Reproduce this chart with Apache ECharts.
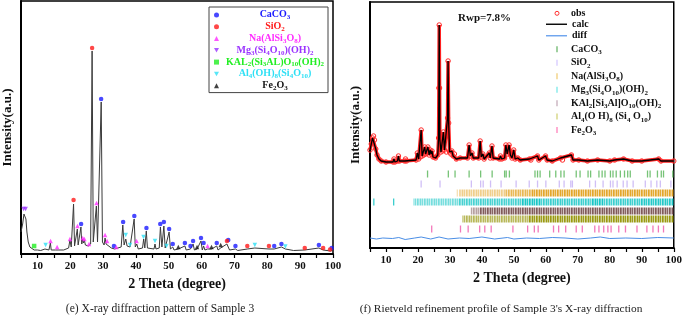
<!DOCTYPE html>
<html>
<head>
<meta charset="utf-8">
<script src="https://cdn.jsdelivr.net/npm/echarts@6/dist/echarts.min.js"></script>
<style>
  html, body { margin: 0; padding: 0; background: #fff; }
  #chart { width: 685px; height: 318px; }
</style>
</head>
<body>
<div id="chart"></div>
<script>
// ---- data ----
// left panel (e): measured pattern [2theta, intensity]
var leftPattern = [
  [5, 22], [5.5, 30], [5.9, 40], [6.2, 42], [6.5, 35], [6.8, 22], [7.2, 12], [7.7, 7], [8.3, 5], [9, 4],
  [10, 4], [11, 3.5], [12.3, 5], [12.6, 7], [12.9, 4], [13.5, 4], [13.95, 11], [14.2, 4], [15.5, 4], [15.9, 6],
  [16.3, 4], [18, 4], [19.5, 6], [19.9, 14], [20.3, 7], [20.7, 8], [21.0, 50], [21.3, 8], [21.8, 9], [22.15, 25],
  [22.4, 9], [22.9, 10], [23.25, 27], [23.5, 10], [23.8, 15], [24.05, 11], [24.3, 14], [24.6, 9], [25.5, 8], [25.8, 9],
  [26.2, 10], [26.65, 203], [27.0, 12], [27.4, 10], [27.95, 48], [28.3, 12], [28.8, 11], [29.42, 152], [29.8, 12], [30.3, 9],
  [30.6, 16], [30.9, 10], [31.2, 12], [31.5, 8], [32.5, 6], [33.0, 7], [33.5, 5], [34.0, 5], [35.5, 7], [36.0, 29],
  [36.4, 9], [36.9, 15], [37.3, 8], [38.2, 7], [38.6, 6], [39.45, 35], [39.8, 7], [40.25, 10], [40.7, 5], [42.0, 6],
  [42.35, 15], [42.7, 6], [43.15, 23], [43.5, 6], [45.5, 5], [45.8, 10], [46.1, 5], [47.1, 6], [47.45, 27], [47.9, 7],
  [48.5, 28], [48.9, 6], [49.3, 5], [50.1, 22], [50.5, 5], [51.2, 7], [51.6, 4], [52.9, 5], [54.9, 8], [55.3, 4],
  [56.6, 5], [57.4, 10], [57.8, 4], [58.6, 5], [59.8, 13], [60.2, 4], [60.6, 8], [61.0, 4], [61.8, 5], [63.0, 5],
  [64.6, 8], [65.0, 4], [65.8, 6], [66.3, 4], [67.7, 10], [68.1, 12], [68.5, 4], [70.3, 5], [71, 3.5], [73.9, 5],
  [76.2, 6], [80.5, 5], [82.1, 5], [84.3, 7], [85.5, 5], [88, 3.5], [91.4, 4], [95.7, 6], [97.0, 4], [99.3, 3], [100, 4]
];

// left panel: phase peak markers [2theta, height]
var markCaCO3 = [[23.3, 30], [29.4, 155], [33.3, 8], [36.1, 32], [39.5, 38], [43.2, 26], [47.4, 30], [48.5, 32],
  [50.1, 25], [51.2, 10], [54.9, 11], [56.6, 8], [57.4, 13], [59.8, 16], [60.6, 11], [64.6, 11], [68.1, 14],
  [70.3, 8], [82.1, 8], [84.3, 10], [95.7, 9], [99.6, 6]];
var markSiO2 = [[21.0, 54], [26.65, 206], [67.7, 13], [73.9, 8], [80.5, 8], [91.4, 6], [97.0, 6], [99.1, 4.5]];
var markNa = [[14.0, 13], [16.0, 7], [19.9, 15], [22.2, 28], [23.8, 16], [24.3, 15], [25.7, 10], [28.0, 51],
  [30.6, 19], [31.2, 13], [34.0, 7], [40.2, 13], [61.8, 8]];
var markMg = [[5.8, 45], [6.4, 45]];
var markKAL = [[9.0, 8]];
var markAl4 = [[12.5, 9], [36.9, 19], [38.2, 9], [42.3, 17], [45.8, 13], [49.3, 8], [76.2, 9], [85.5, 7.5]];
var markFe = [[52.9, 7], [58.6, 7], [63.0, 7], [65.8, 9]];

// right panel (f): observed / calculated profile [2theta, intensity]
var rightObs = [
  [5, 98], [5.4, 104], [5.8, 110], [6.1, 112], [6.4, 108], [6.8, 99], [7.2, 93], [7.8, 89], [8.5, 87], [10, 86],
  [12.2, 86], [12.5, 89], [12.8, 86], [13.6, 87], [13.9, 92], [14.2, 87], [15.8, 87], [16.1, 89], [16.4, 87], [19.4, 88],
  [19.8, 95], [20.2, 89], [20.7, 91], [21.0, 118], [21.3, 92], [21.8, 93], [22.1, 101], [22.4, 94], [22.8, 95], [23.1, 101],
  [23.5, 93], [23.8, 98], [24.1, 94], [24.4, 97], [24.7, 91], [25.5, 90], [26.2, 93], [26.45, 110], [26.55, 160], [26.65, 223],
  [26.75, 160], [26.85, 108], [27.2, 96], [27.6, 97], [27.95, 116], [28.3, 98], [28.9, 96], [29.25, 130], [29.42, 187], [29.6, 125],
  [29.9, 96], [30.3, 94], [30.6, 97], [31.0, 92], [31.4, 94], [32, 89], [33.2, 90], [35.5, 90], [36.0, 103], [36.4, 92],
  [36.9, 95], [37.3, 90], [39.0, 90], [39.45, 107], [39.8, 91], [40.3, 94], [40.7, 89], [42.3, 95], [42.6, 90], [43.15, 102],
  [43.5, 90], [45.5, 89], [45.8, 92], [46.2, 89], [47.1, 90], [47.5, 103], [47.9, 94], [48.5, 103], [48.9, 93], [49.4, 90],
  [49.95, 98], [50.4, 89], [51.2, 90], [52, 88], [54.9, 89], [55.3, 88], [57.4, 92], [57.8, 88], [59.9, 92], [60.4, 88],
  [62, 87], [64.6, 90], [65.2, 88], [68.0, 93], [68.5, 88], [70.3, 88], [73, 87], [76.2, 88], [80, 87], [81.5, 88],
  [84.3, 89], [87, 87], [90, 87], [95.3, 89], [96, 87], [100, 87]
];
var rightDiff = [[5, 10], [7, 9], [9, 10], [12, 9.5], [14, 10.5], [16, 8.5], [19, 10], [21, 11], [24, 9], [26.6, 11],
  [29.4, 9], [33, 10], [36, 9.5], [40, 11], [44, 9], [48, 10.5], [50, 9], [54, 10], [58, 9.5], [62, 10.5],
  [66, 10], [70, 9], [74, 10], [77, 11], [80, 9.5], [85, 10], [90, 9.5], [95, 10.5], [100, 10]];

// right panel: Bragg reflection positions (single ticks) and dense bands [from, to, strength]
var tickCaCO3 = [23.0, 29.5, 31.6, 36.0, 39.6, 43.2, 47.1, 47.6, 48.6, 56.6, 57.4, 58.2, 61.2, 63.1, 64.7, 65.7, 69.5,
  70.7, 73.2, 74.0, 76.6, 77.6, 78.5, 80.2, 81.0, 82.0, 83.3, 84.6, 85.6, 86.4, 91.8, 92.6, 94.9, 96.1, 96.8, 99.7];
var tickSiO2 = [21.0, 26.9, 36.7, 39.6, 40.4, 42.7, 46.0, 50.7, 54.8, 57.4, 60.0, 64.2, 65.7, 67.8, 68.3, 73.7, 75.5,
  77.9, 80.2, 81.0, 82.3, 84.2, 85.4, 87.3, 91.1, 92.9, 94.7, 95.8, 99.1];
var tickFe2O3 = [24.3, 33.3, 35.7, 39.3, 40.9, 42.9, 49.7, 54.3, 56.4, 57.6, 62.4, 64.0, 66.2, 69.5, 71.4, 75.3, 76.6,
  78.1, 79.4, 80.4, 82.8, 84.9, 88.5, 91.6, 93.5, 95.2, 96.8];
var tickMg3 = [6.2, 12.4];
var bandNa = [[32.1, 32.4, 0.6], [32.9, 47.1, 0.55], [47.1, 55.4, 0.8], [55.4, 100, 1]];
var bandMg3 = [[18.6, 32.6, 0.6], [32.6, 52.3, 0.8], [52.3, 58.5, 1], [58.5, 74, 0.85], [74, 78, 1], [78, 89.5, 0.85], [89.5, 100, 0.95]];
var bandKAl = [[36.5, 39.3, 0.55], [39.3, 100, 0.95]];
var bandAl4 = [[33.9, 54.3, 0.7], [54.3, 100, 1]];

var xTicks = [10, 20, 30, 40, 50, 60, 70, 80, 90, 100];

var leftLabels = [
  '{n|CaCO}{s|3}',
  '{n|SiO}{s|2}',
  '{n|Na(AlSi}{s|3}{n|O}{s|8}{n|)}',
  '{n|Mg}{s|3}{n|(Si}{s|4}{n|O}{s|10}{n|)(OH)}{s|2}',
  '{n|KAL}{s|2}{n|(Si}{s|3}{n|AL)O}{s|10}{n|(OH)}{s|2}',
  '{n|Al}{s|4}{n|(OH)}{s|8}{n|(Si}{s|4}{n|O}{s|10}{n|)}',
  '{n|Fe}{s|2}{n|O}{s|3}'
];
var rightLabels = [
  '{n|CaCO}{s|3}',
  '{n|SiO}{s|2}',
  '{n|Na(AlSi}{s|3}{n|O}{s|8}{n|)}',
  '{n|Mg}{s|3}{n|(Si}{s|4}{n|O}{s|10}{n|)(OH)}{s|2}',
  '{n|KAl}{s|2}{n|[Si}{s|3}{n|Al]O}{s|10}{n|(OH)}{s|2}',
  '{n|Al}{s|4}{n|(O H)}{s|8}{n| (Si}{s|4}{n| O}{s|10}{n|)}',
  '{n|Fe}{s|2}{n|O}{s|3}'
];

// ---- styles ----
var SERIF = 'Liberation Serif';
var invTri = 'path://M0,0L10,0L5,9Z';
var leftNames = ['L-CaCO3', 'L-SiO2', 'L-Na', 'L-Mg3', 'L-KAL2', 'L-Al4', 'L-Fe2O3'];
var leftMarks = [markCaCO3, markSiO2, markNa, markMg, markKAL, markAl4, markFe];
var leftColors = ['#1a1aff', '#ff1a1a', '#ff2cff', '#9a33ff', '#22ee22', '#2ee0f5', '#111111'];
var leftSymbols = ['circle', 'circle', 'triangle', invTri, 'rect', invTri, 'triangle'];

var rightNames = ['R-CaCO3', 'R-SiO2', 'R-Na', 'R-Mg3', 'R-KAl2', 'R-Al4', 'R-Fe2O3'];
var rowColors = ['#5fb85f', '#c8b4f4', '#e3a62a', '#19c6c6', '#7a5252', '#999911', '#f060ae'];
var legendPale = ['#9fd09f', '#e4dcff', '#f6dfa8', '#a8f0f0', '#d9c9d2', '#e2e2a8', '#ffadd3'];
var rowLevel = [74, 64, 55, 46, 37, 29, 19];

function stripes(color) {
  var c = document.createElement('canvas');
  c.width = 7; c.height = 8;
  var g = c.getContext('2d');
  var a = [1, 0.55, 0.95, 0.35, 1, 0.75, 0.5];
  g.fillStyle = color;
  for (var i = 0; i < a.length; i++) {
    g.globalAlpha = a[i];
    g.fillRect(i, 0, 1, 8);
  }
  return { image: c, repeat: 'repeat' };
}

function rowSeries(k, items) {
  var level = rowLevel[k];
  var pat = stripes(rowColors[k]);
  return {
    name: rightNames[k], type: 'custom', xAxisIndex: 1, yAxisIndex: 1,
    encode: { x: [0, 1] },
    itemStyle: { color: rowColors[k] },
    data: items,
    renderItem: function (params, api) {
      var p1 = api.coord([api.value(0), level]);
      var p2 = api.coord([api.value(1), level]);
      var single = api.value(1) - api.value(0) < 0.01;
      var w = single ? 1.3 : p2[0] - p1[0];
      return {
        type: 'rect',
        shape: { x: single ? p1[0] - 0.65 : p1[0], y: p1[1] - 3.5, width: w, height: 7 },
        style: { fill: single ? rowColors[k] : pat, opacity: api.value(2) }
      };
    }
  };
}
function asTicks(arr) { return arr.map(function (p) { return [p, p, 0.85]; }); }

function richFor(color, lh) {
  return {
    n: { fontFamily: SERIF, fontWeight: 'bold', fontSize: 10, lineHeight: lh, color: color, align: 'center' },
    s: { fontFamily: SERIF, fontWeight: 'bold', fontSize: 7, lineHeight: 7, verticalAlign: 'bottom', color: color, align: 'center' }
  };
}
function richLeft(color, lh) {
  var r = richFor(color, lh);
  r.n.align = 'left'; r.s.align = 'left';
  return r;
}

function xAxisCfg(grid) {
  return {
    type: 'value', gridIndex: grid, min: 5, max: 100, interval: 5,
    name: '2 Theta (degree)', nameLocation: 'middle', nameGap: 21,
    nameTextStyle: { fontFamily: SERIF, fontWeight: 'bold', fontSize: 14, color: '#111' },
    axisLine: { lineStyle: { color: '#000', width: 2 } },
    axisTick: { inside: false, length: 4, lineStyle: { color: '#000', width: 1.2 } },
    axisLabel: {
      margin: 7, fontFamily: SERIF, fontWeight: 'bold', fontSize: 11, color: '#111',
      formatter: function (v) { return xTicks.indexOf(v) >= 0 ? String(v) : ''; }
    },
    splitLine: { show: false }
  };
}
function yAxisCfg(grid, max, gap) {
  return {
    type: 'value', gridIndex: grid, min: 0, max: max,
    name: 'Intensity(a.u.)', nameLocation: 'middle', nameGap: gap, nameRotate: 90,
    nameTextStyle: { fontFamily: SERIF, fontWeight: 'bold', fontSize: 13, color: '#111' },
    axisLine: { lineStyle: { color: '#000', width: 2 } },
    axisTick: { show: false }, axisLabel: { show: false }, splitLine: { show: false }
  };
}

var series = [{
  name: 'pattern', type: 'line', xAxisIndex: 0, yAxisIndex: 0, data: leftPattern,
  symbol: 'none', lineStyle: { color: '#3a3a3a', width: 1 }, z: 2
}];
leftNames.forEach(function (nm, k) {
  series.push({
    name: nm, type: 'scatter', xAxisIndex: 0, yAxisIndex: 0, data: leftMarks[k],
    symbol: leftSymbols[k], symbolSize: 4.5, itemStyle: { color: leftColors[k] }, z: 3
  });
});
series.push({
  name: 'obs', type: 'line', xAxisIndex: 1, yAxisIndex: 1, data: rightObs,
  symbol: 'circle', symbolSize: 4.5, showSymbol: true,
  itemStyle: { color: 'rgba(255,0,0,0)', borderColor: '#ff2a2a', borderWidth: 1 },
  lineStyle: { color: '#ff2020', width: 3.5 }, z: 2
});
series.push({
  name: 'calc', type: 'line', xAxisIndex: 1, yAxisIndex: 1, data: rightObs,
  symbol: 'none', lineStyle: { color: '#000', width: 1.3 }, itemStyle: { color: '#000' }, z: 4
});
series.push({
  name: 'diff', type: 'line', xAxisIndex: 1, yAxisIndex: 1, data: rightDiff,
  symbol: 'none', lineStyle: { color: '#4a8ee6', width: 1 }, itemStyle: { color: '#4a8ee6' }, z: 3
});
series.push(rowSeries(0, asTicks(tickCaCO3)));
series.push(rowSeries(1, asTicks(tickSiO2)));
series.push(rowSeries(2, bandNa));
series.push(rowSeries(3, asTicks(tickMg3).concat(bandMg3)));
series.push(rowSeries(4, bandKAl));
series.push(rowSeries(5, bandAl4));
series.push(rowSeries(6, asTicks(tickFe2O3)));

var chart = echarts.init(document.getElementById('chart'), null, { renderer: 'canvas' });
chart.setOption({
  animation: false,
  backgroundColor: '#fff',
  grid: [
    { left: 21, top: 1, width: 312, height: 253, show: true, borderColor: '#000', borderWidth: 1.5, backgroundColor: 'transparent' },
    { left: 370, top: 2, width: 305, height: 246, show: true, borderColor: '#000', borderWidth: 1.5, backgroundColor: 'transparent' }
  ],
  xAxis: [xAxisCfg(0), xAxisCfg(1)],
  yAxis: [yAxisCfg(0, 253, 7), yAxisCfg(1, 246, 8)],
  legend: [
    {
      selectedMode: false, orient: 'vertical', left: 209, top: 7,
      backgroundColor: '#fff', borderColor: '#444', borderWidth: 1, padding: [2, 3, 1, 5],
      itemWidth: 5, itemHeight: 5, itemGap: 0,
      data: leftNames.map(function (nm, k) {
        return {
          name: nm, icon: leftSymbols[k], itemStyle: { color: leftColors[k] },
          textStyle: { width: 100, lineHeight: 11.8, padding: [0, 0, 0, 1], rich: richFor(leftColors[k], 11.8) }
        };
      }),
      formatter: function (nm) { return leftLabels[leftNames.indexOf(nm)]; }
    },
    {
      selectedMode: false, orient: 'vertical', left: 554.5, top: 7.3,
      itemWidth: 4, itemHeight: 4, itemGap: 0, padding: 0,
      data: [{ name: 'obs', icon: 'circle', itemStyle: { color: 'rgba(255,0,0,0)', borderColor: '#ff3030', borderWidth: 1 } }],
      textStyle: { fontFamily: SERIF, fontWeight: 'bold', fontSize: 10, lineHeight: 12, color: '#111', padding: [0, 0, 0, 7] }
    },
    {
      selectedMode: false, orient: 'vertical', left: 546, top: 18.5,
      itemWidth: 21, itemHeight: 1.4, itemGap: 0, padding: 0,
      data: [
        { name: 'calc', icon: 'rect', itemStyle: { color: '#000' } },
        { name: 'diff', icon: 'rect', itemStyle: { color: '#6aa2ee' } }
      ],
      textStyle: { fontFamily: SERIF, fontWeight: 'bold', fontSize: 10, lineHeight: 11.5, color: '#111' }
    },
    {
      selectedMode: false, orient: 'vertical', left: 556, top: 42.6,
      itemWidth: 2, itemHeight: 6, itemGap: 0, padding: 0,
      data: rightNames.map(function (nm, k) {
        return {
          name: nm, icon: 'rect', itemStyle: { color: legendPale[k], opacity: 1 },
          textStyle: { lineHeight: 13.45, padding: [0, 0, 0, 8], rich: richLeft('#111', 13.45) }
        };
      }),
      formatter: function (nm) { return rightLabels[rightNames.indexOf(nm)]; }
    }
  ],
  graphic: [
    { type: 'text', left: 458, top: 13, style: { text: 'Rwp=7.8%', font: 'bold 11px "Liberation Serif"', fill: '#111' } },
    { type: 'text', x: 160, y: 309, style: { text: '(e) X-ray diffraction pattern of Sample 3', font: '11.6px "Liberation Serif"', fill: '#222', align: 'center', verticalAlign: 'middle' } },
    { type: 'text', x: 501, y: 309, style: { text: "(f) Rietveld refinement profile of Sample 3's X-ray diffraction", font: '11.4px "Liberation Serif"', fill: '#222', align: 'center', verticalAlign: 'middle' } }
  ],
  series: series
});
</script>
</body>
</html>
